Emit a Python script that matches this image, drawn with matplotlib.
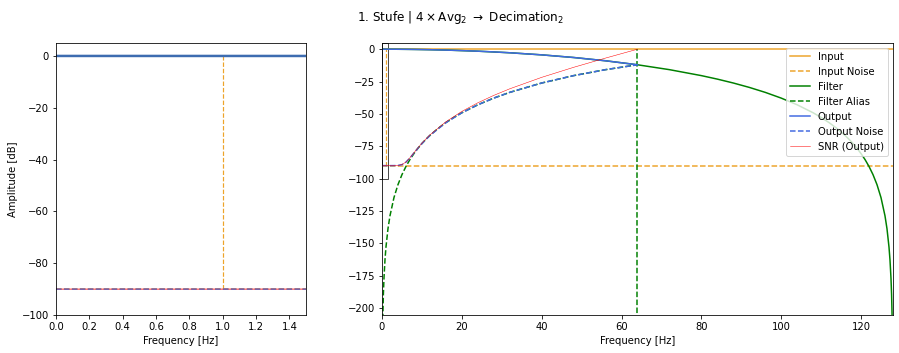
import matplotlib
matplotlib.use("Agg")
import matplotlib.pyplot as plt
from matplotlib.patches import Rectangle

# ---- data ----
input_freq = [0, 128]
input_db = [0, 0]
input_noise_db = [-90, -90]
tone_freq = 1.0

filter_freq = [0, 2, 4, 8, 12, 16, 24, 32, 40, 48, 56, 64, 72, 80, 84, 88, 92, 96,
               100, 104, 108, 110, 112, 114, 116, 117, 118, 119, 120, 121, 122, 123,
               124, 125, 126, 126.5, 127, 127.25, 127.5, 127.65, 127.8]
filter_db = [0, -0.01, -0.04, -0.17, -0.38, -0.67, -1.53, -2.75, -4.37, -6.41, -8.95,
             -12.04, -15.81, -20.42, -23.12, -26.13, -29.52, -33.37, -37.80, -42.97,
             -49.15, -52.75, -56.78, -61.37, -66.68, -69.68, -72.97, -76.62, -80.70,
             -85.32, -90.67, -96.99, -104.74, -114.72, -128.81, -138.80, -152.89,
             -162.88, -176.97, -189.36, -208.8]

alias_freq = [0.2, 0.35, 0.5, 0.75, 1, 1.5, 2, 3, 4, 5, 6, 7, 8, 9, 10, 11, 12, 14, 16,
              18, 20, 24, 28, 32, 40, 48, 56, 64]
alias_db = [-208.8, -189.36, -176.97, -162.88, -152.89, -138.80, -128.81, -114.72,
            -104.74, -96.99, -90.67, -85.32, -80.70, -76.62, -72.97, -69.68, -66.68,
            -61.37, -56.78, -52.75, -49.15, -42.97, -37.80, -33.37, -26.13, -20.42,
            -15.81, -12.04]

out_freq = [0, 1, 2, 3, 4, 5, 6, 7, 8, 10, 12, 16, 20, 24, 28, 32, 40, 48, 56, 64]
output_db = [0, -0.003, -0.01, -0.02, -0.04, -0.07, -0.09, -0.13, -0.17, -0.26, -0.38,
             -0.67, -1.06, -1.53, -2.09, -2.75, -4.37, -6.41, -8.95, -12.04]
output_noise_db = [-90.0, -90.0, -90.0, -89.99, -89.86, -89.26, -87.32, -84.08, -80.24,
                   -72.89, -66.66, -56.78, -49.15, -42.97, -37.80, -33.37, -26.13,
                   -20.42, -15.81, -12.04]
snr_db = [-90.0, -90.0, -89.99, -89.97, -89.82, -89.19, -87.23, -83.95, -80.07, -72.63,
          -66.28, -56.11, -48.09, -41.44, -35.71, -30.62, -21.76, -14.01, -6.86, 0.0]

nyquist_out = 64

C_IN = "#eda42a"
C_FILT = "green"
C_OUT = "royalblue"
C_SNR = "red"

fig = plt.figure(figsize=(899 / 72, 353 / 72), dpi=72)
axL = fig.add_axes([0.0623, 0.1076, 0.2781, 0.7706])
axR = fig.add_axes([0.4249, 0.1076, 0.5684, 0.7706])

fig.suptitle(r"1. Stufe | $4 \times \mathrm{Avg}_2$ $\rightarrow$ Decimation$_2$",
             x=0.512, y=0.975)

# ---- left (zoomed) ----
axL.plot(input_freq, input_db, color=C_IN, lw=1.5)
axL.plot(input_freq, input_noise_db, color=C_IN, lw=1.5, ls="--")
axL.vlines(tone_freq, -90, 0, color=C_IN, lw=1.2, ls="--")
axL.plot(filter_freq, filter_db, color=C_FILT, lw=1.5)
axL.plot(out_freq, output_db, color="#3d6cb0", lw=2.5)
axL.plot(out_freq, snr_db, color=C_SNR, lw=0.8)
axL.plot(out_freq, output_noise_db, color=C_OUT, lw=1.5, ls="--", alpha=0.8)
axL.set_xlim(0, 1.5)
axL.set_ylim(-100, 5)
axL.set_xlabel("Frequency [Hz]")
axL.set_ylabel("Amplitude [dB]")

# ---- right (full) ----
axR.plot(input_freq, input_db, color=C_IN, lw=1.5, label="Input")
axR.plot(input_freq, input_noise_db, color=C_IN, lw=1.5, ls="--", label="Input Noise")
axR.vlines(tone_freq, -90, 0, color=C_IN, lw=1.2, ls="--")
axR.plot(filter_freq, filter_db, color=C_FILT, lw=1.5, label="Filter")
axR.plot(alias_freq, alias_db, color=C_FILT, lw=1.5, ls="--", label="Filter Alias")
axR.vlines(nyquist_out, -210, 0, color=C_FILT, lw=1.5, ls="--")
axR.plot(out_freq, output_db, color=C_OUT, lw=1.5, label="Output")
axR.plot(out_freq, output_noise_db, color=C_OUT, lw=1.5, ls="--", label="Output Noise")
axR.plot(out_freq, snr_db, color=C_SNR, lw=0.5, label="SNR (Output)")
axR.add_patch(Rectangle((0, -100), 1.5, 105, fill=False, ec="0.3", lw=1))
axR.set_xlim(0, 128)
axR.set_ylim(-205.5, 4.8)
axR.set_xlabel("Frequency [Hz]")
axR.legend(loc="upper right")

fig.savefig("out.png", dpi=72)
